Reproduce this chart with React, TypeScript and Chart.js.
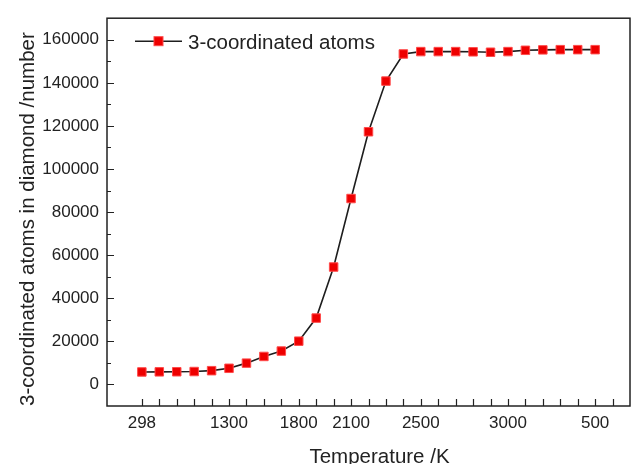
import React, { useEffect, useRef } from 'react';
import { Chart, registerables } from 'chart.js';

Chart.register(...registerables);

// ---- data ----
const seriesLabel = '3-coordinated atoms';
const atomCounts = [
  5800, 5850, 5900, 6000, 6400, 7500, 9900, 13000, 15500, 20100,
  30800, 54500, 86300, 117300, 140800, 153400, 154500, 154500, 154500, 154400,
  154200, 154500, 155100, 155300, 155400, 155400, 155400,
];
const xTickValues = [0, 1, 2, 3, 4, 5, 6, 7, 8, 9, 10, 11, 12, 13, 14, 15, 16, 17, 18, 19, 20, 21, 22, 23, 24, 25, 26, 27];
const xLabelIndex = [0, 5, 9, 12, 16, 21, 26];
const xLabelText = ['298', '1300', '1800', '2100', '2500', '3000', '500'];
const yMajorTicks = [0, 20000, 40000, 60000, 80000, 100000, 120000, 140000, 160000];
const yMinorTicks = [10000, 30000, 50000, 70000, 90000, 110000, 130000, 150000];
const xTitle = 'Temperature /K';
const yTitle = '3-coordinated atoms in diamond /number';

const FONT = "'Liberation Sans', Arial, sans-serif";
const INK = '#222';
const RED = '#ee0000';
const RED_EDGE = '#ff4a4a';
const LINE = '#1e1e1e';

const framePlugin = {
  id: 'frameTicks',
  beforeDatasetsDraw(chart: any) {
    const { ctx, chartArea: a, scales } = chart;
    const x = scales.x;
    const y = scales.y;
    ctx.save();
    ctx.strokeStyle = INK;
    ctx.lineWidth = 1.5;
    ctx.strokeRect(a.left, a.top, a.right - a.left, a.bottom - a.top);
    ctx.lineWidth = 1.2;
    ctx.beginPath();
    for (const v of xTickValues) {
      const px = Math.round(x.getPixelForValue(v)) + 0.5;
      ctx.moveTo(px, a.bottom);
      ctx.lineTo(px, a.bottom - 7);
    }
    for (const v of yMajorTicks) {
      const py = Math.round(y.getPixelForValue(v)) + 0.5;
      ctx.moveTo(a.left, py);
      ctx.lineTo(a.left + 7, py);
    }
    for (const v of yMinorTicks) {
      const py = Math.round(y.getPixelForValue(v)) + 0.5;
      ctx.moveTo(a.left, py);
      ctx.lineTo(a.left + 4, py);
    }
    ctx.stroke();
    ctx.restore();
  },
  afterDraw(chart: any) {
    const { ctx, chartArea: a } = chart;
    ctx.save();
    ctx.fillStyle = INK;
    ctx.font = `20.5px ${FONT}`;
    // x title
    ctx.textAlign = 'center';
    ctx.textBaseline = 'alphabetic';
    ctx.fillText(xTitle, (a.left + a.right) / 2 + 11, chart.height - 1);
    // y title
    ctx.save();
    ctx.translate(33.5, (a.top + a.bottom) / 2 + 7);
    ctx.rotate(-Math.PI / 2);
    ctx.fillText(yTitle, 0, 0);
    ctx.restore();
    // legend
    const ly = a.top + 23;
    const lx0 = a.left + 28;
    const lx1 = a.left + 75;
    const mx = (lx0 + lx1) / 2;
    ctx.strokeStyle = LINE;
    ctx.lineWidth = 1.6;
    ctx.beginPath();
    ctx.moveTo(lx0, ly);
    ctx.lineTo(lx1, ly);
    ctx.stroke();
    ctx.fillStyle = RED;
    ctx.strokeStyle = RED_EDGE;
    ctx.lineWidth = 1;
    ctx.fillRect(mx - 4.5, ly - 4.5, 9, 9);
    ctx.strokeRect(mx - 4.5, ly - 4.5, 9, 9);
    ctx.fillStyle = INK;
    ctx.textAlign = 'left';
    ctx.fillText(seriesLabel, a.left + 81, a.top + 30.5);
    ctx.restore();
  },
};

export default function App() {
  const ref = useRef<HTMLCanvasElement>(null);

  useEffect(() => {
    document.body.style.margin = '0';
    const canvas = ref.current;
    if (!canvas) return;
    const chart = new Chart(canvas, {
      type: 'line',
      data: {
        datasets: [
          {
            label: seriesLabel,
            data: atomCounts.map((v, i) => ({ x: i, y: v })),
            borderColor: LINE,
            borderWidth: 1.6,
            backgroundColor: RED,
            pointStyle: 'rect',
            pointRadius: 6,
            pointBorderWidth: 1,
            pointBorderColor: RED_EDGE,
            pointBackgroundColor: RED,
            tension: 0,
            fill: false,
          },
        ],
      },
      options: {
        responsive: false,
        animation: false,
        layout: { padding: { top: 10, right: 8, left: 0, bottom: 0 } },
        plugins: {
          legend: { display: false },
          tooltip: { enabled: false },
          title: { display: false },
        },
        scales: {
          x: {
            type: 'linear',
            min: -2,
            max: 28,
            grid: { display: false, drawTicks: false },
            border: { display: false },
            ticks: {
              autoSkip: false,
              maxRotation: 0,
              minRotation: 0,
              padding: 7,
              color: INK,
              font: { size: 17, family: FONT },
              callback: (v: any) => {
                const k = xLabelIndex.indexOf(Number(v));
                return k >= 0 ? xLabelText[k] : '';
              },
            },
            afterBuildTicks: (s: any) => {
              s.ticks = xTickValues.map((v) => ({ value: v }));
            },
            afterFit: (s: any) => {
              s.height = 58;
            },
          },
          y: {
            type: 'linear',
            min: -10000,
            max: 170000,
            grid: { display: false, drawTicks: false },
            border: { display: false },
            ticks: {
              padding: 8,
              color: INK,
              font: { size: 17, family: FONT },
              callback: (v: any) => String(v),
            },
            afterBuildTicks: (s: any) => {
              s.ticks = yMajorTicks.map((v) => ({ value: v }));
            },
            afterFit: (s: any) => {
              s.width = 107;
            },
          },
        },
      },
      plugins: [framePlugin],
    });
    return () => chart.destroy();
  }, []);

  return (
    <div style={{ width: 638, height: 464 }}>
      <canvas ref={ref} width={638} height={464} style={{ display: 'block' }} />
    </div>
  );
}
